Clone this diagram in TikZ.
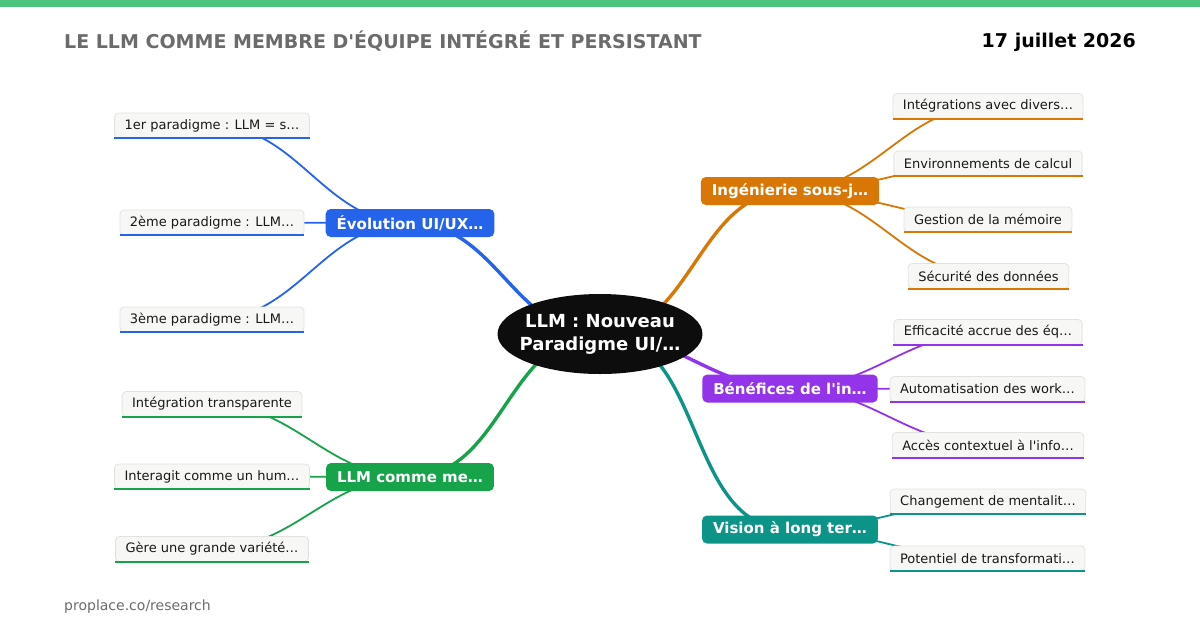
\documentclass[tikz,border=0pt]{standalone}
\usepackage{fontspec}
\setmainfont{DejaVu Sans}[Ligatures=TeXOff]
\usetikzlibrary{shapes.geometric,backgrounds}

\definecolor{barre}{HTML}{4CC47E}
\definecolor{cBleu}{HTML}{2563EB}
\definecolor{cVert}{HTML}{16A34A}
\definecolor{cOrange}{HTML}{D97706}
\definecolor{cViolet}{HTML}{9333EA}
\definecolor{cSarcelle}{HTML}{0D9488}
\definecolor{grisTexte}{HTML}{6B6B6B}
\definecolor{fondFeuille}{HTML}{F7F7F5}
\definecolor{bordFeuille}{HTML}{E2E2DF}

\tikzset{
  racine/.style={ellipse, fill=black!95, text=white, align=center,
    font=\fontsize{18}{23}\selectfont\bfseries,
    minimum width=201pt, minimum height=80pt, inner xsep=-8pt, inner ysep=0pt},
  branche/.style={rounded corners=5pt, fill=#1, text=white,
    font=\fontsize{15}{18}\selectfont\bfseries,
    minimum height=28pt, inner xsep=11pt, inner ysep=0pt},
  feuille/.style={rounded corners=4pt, fill=fondFeuille, draw=bordFeuille,
    line width=0.8pt, text=black!90, font=\fontsize{13}{16}\selectfont,
    minimum height=25pt, inner xsep=10pt, inner ysep=0pt},
  lien/.style={draw=#1, line width=3.4pt},
  sousLien/.style={draw=#1, line width=1.8pt},
}

\begin{document}
\begin{tikzpicture}[x=1pt,y=-1pt]
    \useasboundingbox (0,0) rectangle (1200,630);

    % bandeau et titres
    \fill[barre] (0,0) rectangle (1200,7);
    \node[anchor=west, inner sep=0pt, text=grisTexte, font=\fontsize{19}{22}\selectfont\bfseries] (titre) at (64,41) {LE LLM COMME MEMBRE D'ÉQUIPE INTÉGRÉ ET PERSISTANT};
    \node[anchor=east, inner sep=0pt, font=\fontsize{19}{22}\selectfont\bfseries] (date) at (1136,42.5) {17 juillet 2026};
    \node[anchor=west, inner sep=0pt, text=grisTexte, font=\fontsize{14}{17}\selectfont] (source) at (64,606.5) {proplace.co/research};

    % centre
    \node[racine] (llm) at (600,334) {LLM : Nouveau\\Paradigme UI/…};

    % branches
    \node[branche=cBleu] (evol) at (410,223) {Évolution UI/UX…};
    \node[branche=cVert] (membre) at (410,477) {LLM comme me…};
    \node[branche=cOrange] (inge) at (790,191) {Ingénierie sous-j…};
    \node[branche=cViolet] (bene) at (790,388.5) {Bénéfices de l'in…};
    \node[branche=cSarcelle] (vision) at (790,529.5) {Vision à long ter…};

    % feuilles gauche
    \node[feuille] (p1) at (212,125.5) {1er paradigme : LLM = s…};
    \node[feuille] (p2) at (212,222.5) {2ème paradigme : LLM…};
    \node[feuille] (p3) at (212,319.5) {3ème paradigme : LLM…};
    \node[feuille] (m1) at (212,404) {Intégration transparente};
    \node[feuille] (m2) at (212,476.5) {Interagit comme un hum…};
    \node[feuille] (m3) at (212,549) {Gère une grande variété…};

    % feuilles droite
    \node[feuille] (i1) at (988,106) {Intégrations avec divers…};
    \node[feuille] (i2) at (988,163.5) {Environnements de calcul};
    \node[feuille] (i3) at (988,219.5) {Gestion de la mémoire};
    \node[feuille] (i4) at (988.5,276) {Sécurité des données};
    \node[feuille] (b1) at (988,332) {Efficacité accrue des éq…};
    \node[feuille] (b2) at (987.5,389) {Automatisation des work…};
    \node[feuille] (b3) at (988,445) {Accès contextuel à l'info…};
    \node[feuille] (v1) at (988,501.5) {Changement de mentalit…};
    \node[feuille] (v2) at (987.5,558.5) {Potentiel de transformati…};

    % liens
    \begin{pgfonlayer}{background}
      \draw[lien=cBleu] (llm.center) to[out=180,in=0] (evol.center);
      \draw[lien=cVert] (llm.center) to[out=180,in=0] (membre.center);
      \draw[lien=cOrange] (llm.center) to[out=0,in=180] (inge.center);
      \draw[lien=cViolet] (llm.center) to[out=0,in=180] (bene.center);
      \draw[lien=cSarcelle] (llm.center) to[out=0,in=180] (vision.center);
      \foreach \f in {p1,p2,p3}
        \draw[sousLien=cBleu] (evol.center) to[out=180,in=0] (\f.center);
      \foreach \f in {m1,m2,m3}
        \draw[sousLien=cVert] (membre.center) to[out=180,in=0] (\f.center);
      \foreach \f in {i1,i2,i3,i4}
        \draw[sousLien=cOrange] (inge.center) to[out=0,in=180] (\f.center);
      \foreach \f in {b1,b2,b3}
        \draw[sousLien=cViolet] (bene.center) to[out=0,in=180] (\f.center);
      \foreach \f in {v1,v2}
        \draw[sousLien=cSarcelle] (vision.center) to[out=0,in=180] (\f.center);
    \end{pgfonlayer}

    % soulignements
    \foreach \f/\c in {p1/cBleu,p2/cBleu,p3/cBleu,m1/cVert,m2/cVert,m3/cVert,
        i1/cOrange,i2/cOrange,i3/cOrange,i4/cOrange,b1/cViolet,b2/cViolet,b3/cViolet,
        v1/cSarcelle,v2/cSarcelle}
      \draw[\c, line width=2pt] (\f.south west) -- (\f.south east);
\end{tikzpicture}
\end{document}
